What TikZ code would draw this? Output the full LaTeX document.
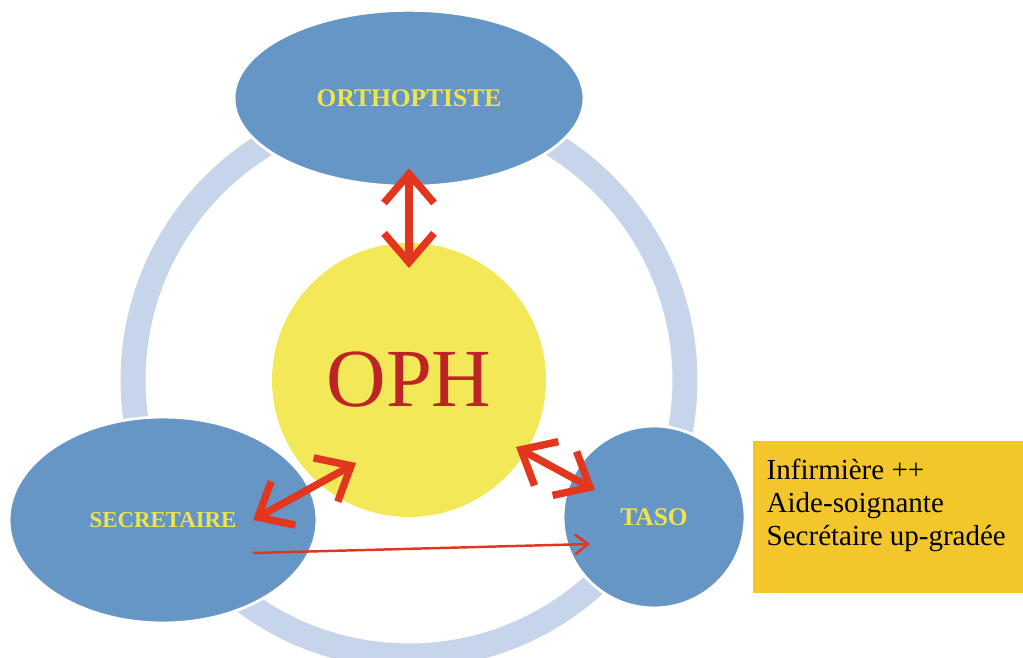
\documentclass[tikz,border=0pt]{standalone}
\usepackage{fontspec}
\setmainfont{Liberation Serif}
\usetikzlibrary{arrows.meta,shapes.geometric,positioning,calc}

\definecolor{pole}{RGB}{102,150,198}
\definecolor{anneau}{RGB}{198,213,234}
\definecolor{jaune}{RGB}{242,232,88}
\definecolor{encadre}{RGB}{243,199,43}
\definecolor{fleche}{RGB}{226,54,30}
\definecolor{rougeoph}{RGB}{190,36,38}
\definecolor{lettre}{RGB}{240,228,70}

\begin{document}
\begin{tikzpicture}[x=0.02cm, y=-0.02cm,
    pole/.style={ellipse, fill=pole, draw=white, line width=1.6pt, inner sep=0pt,
      text=lettre, font=\bfseries\fontsize{14.5}{16}\selectfont},
    biarrow/.style={draw=fleche, line width=4.2pt,
      {Straight Barb[length=0.58cm,width=1cm]}-{Straight Barb[length=0.58cm,width=1cm]}},
    monoarrow/.style={draw=fleche, line width=1.4pt, -{Straight Barb[length=0.26cm,width=0.4cm]}}]
  \useasboundingbox (0,0) rectangle (1023,658);
  % centre commun
  \coordinate (centre) at (409,380);
  \draw[anneau, line width=0.5cm] (centre) circle[radius=5.52cm]; % anneau de fond

  % les poles
  \node[circle, fill=jaune, inner sep=0pt, minimum size=5.48cm, text=rougeoph,
    font=\fontsize{47}{50}\selectfont] (oph) at (centre) {OPH};          % ophtalmologiste
  \node[pole, minimum width=7cm, minimum height=3.52cm, above=1.1cm of oph] (ortho) {ORTHOPTISTE};
  \node[pole, minimum width=6.16cm, minimum height=4.12cm,
    font=\bfseries\fontsize{13}{15}\selectfont] (secr) at (163,520) {SECRETAIRE};
  \node[pole, circle, minimum size=3.64cm] (taso) at (654,517) {TASO};
  \node[rectangle, fill=encadre, inner xsep=0.28cm, inner ysep=0.36cm, right=0.12cm of taso,
    font=\fontsize{16.5}{18.7}\selectfont] (infos)
    {\parbox[c][2.32cm][t]{4.88cm}{\mbox{Infirmière ++}\\ \mbox{Aide-soignante}\\ \mbox{Secrétaire up-gradée}}};

  % extremites des fleches
  \coordinate (o1) at ($(ortho.center)+(0,70)$);
  \coordinate (o2) at ($(oph.center)+(0,-112)$);
  \coordinate (s1) at ($(secr.center)+(90,0)$);
  \coordinate (s2) at ($(oph.center)+(-53,83)$);
  \coordinate (t1) at ($(oph.center)+(107,67)$);
  \coordinate (t2) at ($(taso.center)+(-59,-27)$);
  \coordinate (s3) at ($(secr.center)+(90,33)$);
  \coordinate (t3) at ($(taso.center)+(-64,27)$);

  \draw[biarrow] (o1) -- (o2);
  \draw[biarrow] (s1) -- (s2);
  \draw[biarrow] (t1) -- (t2);
  \draw[monoarrow] (s3) -- (t3);
\end{tikzpicture}
\end{document}
